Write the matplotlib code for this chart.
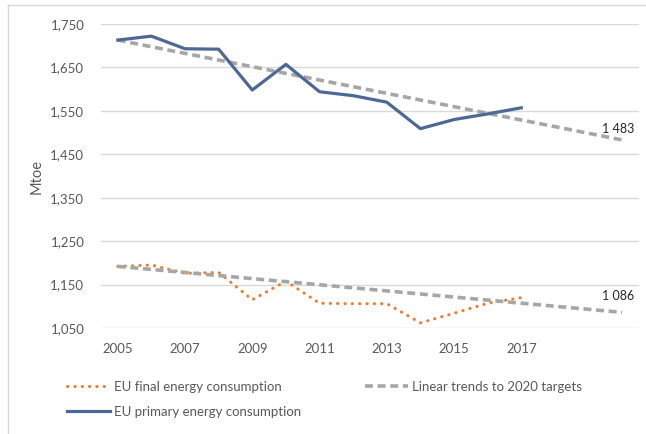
import matplotlib
matplotlib.use("Agg")
import matplotlib.pyplot as plt
from matplotlib.lines import Line2D

# data (Mtoe)
years = [2005, 2006, 2007, 2008, 2009, 2010, 2011, 2012, 2013, 2014, 2015, 2016, 2017]
primary = [1713, 1722, 1693, 1692, 1598, 1657, 1594, 1585, 1570, 1509, 1530, 1543, 1557]
final = [1192, 1195, 1176, 1178, 1115, 1158, 1107, 1106, 1106, 1062, 1084, 1107, 1120]
trend_years = [2005, 2020]
trend_primary = [1713, 1483]
trend_final = [1192, 1086]
x_ticks = [2005, 2007, 2009, 2011, 2013, 2015, 2017]
y_ticks = [1050, 1150, 1250, 1350, 1450, 1550, 1650, 1750]

plt.rcParams['font.family'] = ['Lato', 'DejaVu Sans']

fig = plt.figure(figsize=(6.46, 4.34), dpi=100)
ax = fig.add_axes([0.1563, 0.2442, 0.8328, 0.7005])

grey_text = '#595959'
trend_col = '#a6a6a6'
dash = (0, (2.2, 1.3))

l_final, = ax.plot(years, final, color='#ed7d31', lw=2.2, linestyle=(0, (0.1, 2.3)),
                   dash_capstyle='round', label='EU final energy consumption')
l_trend, = ax.plot(trend_years, trend_primary, color=trend_col, lw=2.6, linestyle=dash,
                   label='Linear trends to 2020 targets')
ax.plot(trend_years, trend_final, color=trend_col, lw=2.6, linestyle=dash)
l_prim, = ax.plot(years, primary, color='#4e6896', lw=2.3,
                  label='EU primary energy consumption')

ax.text(trend_years[-1] + 0.35, trend_primary[-1] + 25, '1 483', ha='right', va='center',
        fontsize=9, color='#262626')
ax.text(trend_years[-1] + 0.35, trend_final[-1] + 37, '1 086', ha='right', va='center',
        fontsize=9, color='#262626')

ax.set_xlim(2004.5, 2020.5)
ax.set_ylim(1050, 1750)
ax.set_xticks(x_ticks)
ax.set_yticks(y_ticks)
ax.set_yticklabels([f'{v:,}' for v in y_ticks])
ax.tick_params(axis='both', length=0, labelsize=9.5, colors=grey_text)
ax.tick_params(axis='x', pad=11)
ax.tick_params(axis='y', pad=12)
ax.grid(axis='y', color='#d9d9d9', lw=1.0)
ax.set_axisbelow(True)
for s in ax.spines.values():
    s.set_visible(False)
ax.set_ylabel('Mtoe', fontsize=10.5, color=grey_text, labelpad=5)

# column-wise fill: final / primary in first column, trend in second
ax.legend(handles=[l_final, l_prim, l_trend], loc='upper left',
          bbox_to_anchor=(0.085, 0.15), bbox_transform=fig.transFigure,
          ncol=2, frameon=False, fontsize=9.5, labelcolor=grey_text,
          handlelength=3.3, handletextpad=0.3, columnspacing=4.8, labelspacing=1.0)

# light chart-area border (left and top only are visible)
fig.add_artist(Line2D([8 / 646, 8 / 646], [0, 1 - 5 / 434], transform=fig.transFigure,
                      color='#d9d9d9', lw=1.0))
fig.add_artist(Line2D([8 / 646, 1], [1 - 5 / 434, 1 - 5 / 434], transform=fig.transFigure,
                      color='#d9d9d9', lw=1.0))

fig.savefig('out.png', dpi=100)
